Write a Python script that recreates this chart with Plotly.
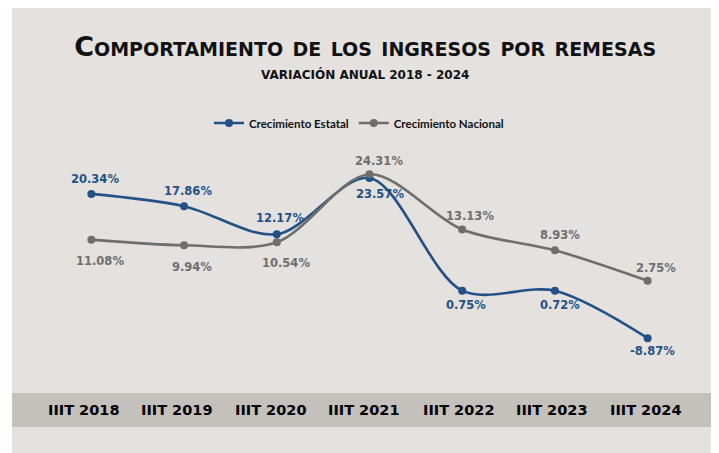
import plotly.graph_objects as go

periodos = ["IIIT 2018", "IIIT 2019", "IIIT 2020", "IIIT 2021", "IIIT 2022", "IIIT 2023", "IIIT 2024"]
estatal = [20.34, 17.86, 12.17, 23.57, 0.75, 0.72, -8.87]
nacional = [11.08, 9.94, 10.54, 24.31, 13.13, 8.93, 2.75]

# label offsets (pixels) – styling only
dy_estatal = [15, 15, 16, -16, -14, -14, -13]
dx_estatal = [4, 4, 3, 10, 4, 5, 5]
dy_nacional = [-21, -22, -21, 13, 14, 15, 13]
dx_nacional = [9, 8, 9, 9, 8, 5, 8]
dx_ticks = [-8, -8, -6, -6, -4, -3, -2]

BLUE = "#235186"
GRAY = "#6E6E6E"
PANEL = "#E4E1DF"
BAND = "#C4C0BC"

OFF = 8  # page body margin
W, H = 711, 445
ML, MR, MT, MB = 37, 25, 132, 60
PW, PH = W - ML - MR, H - MT - MB

def px(xw):
    return (xw - OFF - ML) / PW

def py(yw):
    return (H - MB - (yw - OFF)) / PH

fig = go.Figure()
fig.add_trace(go.Scatter(
    x=periodos, y=estatal, name="Crecimiento Estatal",
    mode="lines+markers", line=dict(color=BLUE, width=2.6, shape="spline", smoothing=0.9),
    marker=dict(color=BLUE, size=8), hoverinfo="skip",
))
fig.add_trace(go.Scatter(
    x=periodos, y=nacional, name="Crecimiento Nacional",
    mode="lines+markers", line=dict(color=GRAY, width=2.6, shape="spline", smoothing=0.9),
    marker=dict(color=GRAY, size=8), hoverinfo="skip",
))

annotations = []
for vals, dxs, dys, col in [(estatal, dx_estatal, dy_estatal, BLUE), (nacional, dx_nacional, dy_nacional, GRAY)]:
    for cat, v, dx, dy in zip(periodos, vals, dxs, dys):
        annotations.append(dict(
            x=cat, y=v, xref="x", yref="y", text=f"{v:.2f}%", showarrow=False,
            xanchor="center", yanchor="middle", xshift=dx, yshift=dy,
            font=dict(family="DejaVu Sans", size=11.5, color=col, weight="bold"),
        ))

# category labels inside the grey band
for cat, dx in zip(periodos, dx_ticks):
    annotations.append(dict(
        x=cat, y=py(410), xref="x", yref="paper", text=cat, showarrow=False,
        xanchor="center", yanchor="middle", xshift=dx,
        font=dict(family="DejaVu Sans", size=14.5, color="#000000", weight="bold"),
    ))

annotations.append(dict(
    text="VARIACIÓN ANUAL 2018 - 2024", xref="paper", yref="paper", x=px(365), y=py(75),
    xanchor="center", yanchor="middle", showarrow=False,
    font=dict(family="DejaVu Sans", size=12, color="#111111", weight="bold")))

fig.update_layout(
    width=W, height=H,
    margin=dict(l=ML, r=MR, t=MT, b=MB, pad=0),
    paper_bgcolor="white", plot_bgcolor="rgba(0,0,0,0)",
    showlegend=True,
    legend=dict(orientation="h", x=px(359), xanchor="center", y=py(123), yanchor="middle",
                font=dict(family="Lato", size=11.5, color="#111111", weight="bold"),
                bgcolor="rgba(0,0,0,0)", itemwidth=30, traceorder="normal"),
    title=dict(text="Comportamiento de los ingresos por remesas", x=px(371), xanchor="center",
               y=1 - (47 - OFF) / H, yanchor="middle",
               font=dict(family="DejaVu Sans", size=27, color="#111111", weight="bold", variant="small-caps")),
    xaxis=dict(showgrid=False, zeroline=False, showline=False, ticks="", showticklabels=False,
               range=[-0.5, 6.5], fixedrange=True),
    yaxis=dict(visible=False, range=[-19.96, 31.25], fixedrange=True),
    shapes=[
        dict(type="rect", xref="paper", yref="paper", x0=px(12), x1=px(719), y0=py(453), y1=py(5),
             fillcolor=PANEL, line=dict(width=0), layer="below"),
        dict(type="rect", xref="paper", yref="paper", x0=px(12), x1=px(717), y0=py(427), y1=py(393),
             fillcolor=BAND, line=dict(width=0), layer="below"),
    ],
    annotations=annotations,
)

fig.write_html("out.html")
